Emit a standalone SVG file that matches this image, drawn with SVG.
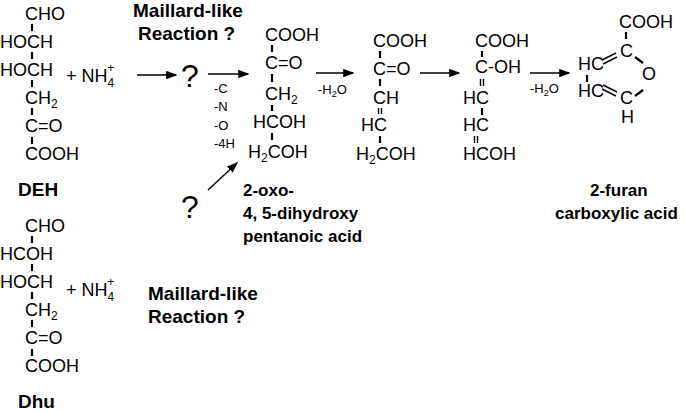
<svg xmlns="http://www.w3.org/2000/svg" width="685" height="413" viewBox="0 0 685 413">
<style>
text{font-family:"Liberation Sans",Arial,sans-serif;fill:#000}
.f{font-size:18px}
.s{font-size:13px}
.b{font-size:17px;font-weight:bold}
.m{font-size:19px;font-weight:bold}
.q{font-size:32px}
line{stroke:#000;stroke-width:1.4}
.bd{stroke-width:2.2}
</style>
<defs><marker id="a" markerWidth="8" markerHeight="6" refX="7" refY="3" orient="auto"><path d="M0,0L8,3L0,6z" fill="#000"/></marker></defs>
<g id="deh">
<text class="f" x="25" y="20">CHO</text><text class="f" x="0" y="48">HOCH</text><text class="f" x="0" y="76">HOCH</text>
<text class="f" x="25" y="104">CH<tspan font-size="12" dy="4">2</tspan></text><text class="f" x="25" y="132">C=O</text><text class="f" x="25" y="160">COOH</text>
<line class="bd" x1="32" y1="24" x2="32" y2="31"/><line class="bd" x1="32" y1="52" x2="32" y2="59"/><line class="bd" x1="32" y1="80" x2="32" y2="87"/><line class="bd" x1="32" y1="108" x2="32" y2="115"/><line class="bd" x1="32" y1="137" x2="32" y2="144"/>
<text class="m" x="18" y="196" font-size="21">DEH</text>
<text class="f" x="66" y="82">+  NH<tspan font-size="12" dy="5">4</tspan><tspan font-size="12" dx="-7" dy="-15">+</tspan></text>
</g>
<g id="dhu">
<text class="f" x="25" y="232">CHO</text><text class="f" x="0" y="260">HCOH</text><text class="f" x="0" y="288">HOCH</text>
<text class="f" x="25" y="316">CH<tspan font-size="12" dy="4">2</tspan></text><text class="f" x="25" y="344">C=O</text><text class="f" x="25" y="372">COOH</text>
<line class="bd" x1="32" y1="236" x2="32" y2="243"/><line class="bd" x1="32" y1="264" x2="32" y2="271"/><line class="bd" x1="32" y1="292" x2="32" y2="299"/><line class="bd" x1="32" y1="320" x2="32" y2="327"/><line class="bd" x1="32" y1="349" x2="32" y2="356"/>
<text class="m" x="18" y="408" font-size="21">Dhu</text>
<text class="f" x="66" y="296">+  NH<tspan font-size="12" dy="5">4</tspan><tspan font-size="12" dx="-7" dy="-15">+</tspan></text>
</g>
<g id="q1"><text class="q" x="181" y="87">?</text>
<text class="m" x="133" y="17">Maillard-like</text><text class="m" x="138" y="40">Reaction ?</text></g>
<g id="q2"><text class="q" x="181" y="218">?</text>
<text class="m" x="148" y="300">Maillard-like</text><text class="m" x="148" y="323">Reaction ?</text></g>
<g id="c2">
<text class="f" x="265" y="41">COOH</text><text class="f" x="265" y="69">C=O</text><text class="f" x="265" y="100">CH<tspan font-size="12" dy="4">2</tspan></text>
<text class="f" x="253" y="128">HCOH</text><text class="f" x="248" y="158">H<tspan font-size="12" dy="4">2</tspan><tspan dy="-4">COH</tspan></text>
<line class="bd" x1="272" y1="45" x2="272" y2="52"/><line class="bd" x1="272" y1="74" x2="272" y2="82"/><line class="bd" x1="272" y1="105" x2="272" y2="111"/><line class="bd" x1="272" y1="133" x2="272" y2="140"/>
<text class="b" x="243" y="196">2-oxo-</text><text class="b" x="243" y="219">4, 5-dihydroxy</text><text class="b" x="243" y="242">pentanoic acid</text>
<text class="s" x="214" y="93">-C</text><text class="s" x="214" y="111">-N</text><text class="s" x="214" y="130">-O</text><text class="s" x="214" y="148">-4H</text>
</g>
<g id="c3">
<text class="f" x="373" y="47">COOH</text><text class="f" x="373" y="75">C=O</text><text class="f" x="373" y="104">CH</text>
<text class="f" x="361" y="131">HC</text><text class="f" x="356" y="160">H<tspan font-size="12" dy="4">2</tspan><tspan dy="-4">COH</tspan></text>
<line class="bd" x1="380" y1="51" x2="380" y2="58"/><line class="bd" x1="380" y1="79" x2="380" y2="86"/>
<line x1="378.5" y1="108" x2="378.5" y2="114"/><line x1="381.5" y1="108" x2="381.5" y2="114"/>
<line class="bd" x1="380" y1="136" x2="380" y2="143"/>
</g>
<g id="c4">
<text class="f" x="475" y="47">COOH</text><text class="f" x="475" y="73">C-OH</text><text class="f" x="463" y="104">HC</text>
<text class="f" x="463" y="131">HC</text><text class="f" x="463" y="160">HCOH</text>
<line class="bd" x1="482" y1="51" x2="482" y2="57"/>
<line x1="480.5" y1="79" x2="480.5" y2="86"/><line x1="483.5" y1="79" x2="483.5" y2="86"/>
<line class="bd" x1="482" y1="108" x2="482" y2="115"/>
<line x1="474.5" y1="136" x2="474.5" y2="143"/><line x1="477.5" y1="136" x2="477.5" y2="143"/>
</g>
<g id="furan">
<text class="f" x="619" y="28">COOH</text><text class="f" x="620" y="57">C</text>
<text class="f" x="578" y="70">HC</text><text class="f" x="642" y="80">O</text>
<text class="f" x="578" y="97">HC</text><text class="f" x="620" y="104">C</text><text class="f" x="621" y="123">H</text>
<line class="bd" x1="626" y1="32" x2="626" y2="39"/>
<line x1="602" y1="60" x2="616" y2="53"/><line x1="603" y1="64" x2="617" y2="57"/>
<line class="bd" x1="635" y1="57" x2="643" y2="63"/>
<line class="bd" x1="587" y1="75" x2="587" y2="82"/>
<line class="bd" x1="635" y1="96" x2="643" y2="90"/>
<line x1="602" y1="89" x2="616" y2="96"/><line x1="603" y1="85" x2="617" y2="92"/>
<text class="b" x="590" y="196">2-furan</text><text class="b" x="555" y="219">carboxylic acid</text>
</g>
<g id="connectors">
<line x1="137" y1="75" x2="176" y2="75" marker-end="url(#a)"/>
<line x1="208" y1="74" x2="248" y2="74" marker-end="url(#a)"/>
<line x1="208" y1="190" x2="237" y2="163" marker-end="url(#a)"/>
<line x1="316" y1="73" x2="353" y2="73" marker-end="url(#a)"/>
<line x1="420" y1="73" x2="459" y2="73" marker-end="url(#a)"/>
<line x1="530" y1="73" x2="569" y2="73" marker-end="url(#a)"/>
<text class="s" x="318" y="94">-H<tspan font-size="9" dy="3">2</tspan><tspan dy="-3">O</tspan></text>
<text class="s" x="530" y="93">-H<tspan font-size="9" dy="3">2</tspan><tspan dy="-3">O</tspan></text>
</g>
</svg>
